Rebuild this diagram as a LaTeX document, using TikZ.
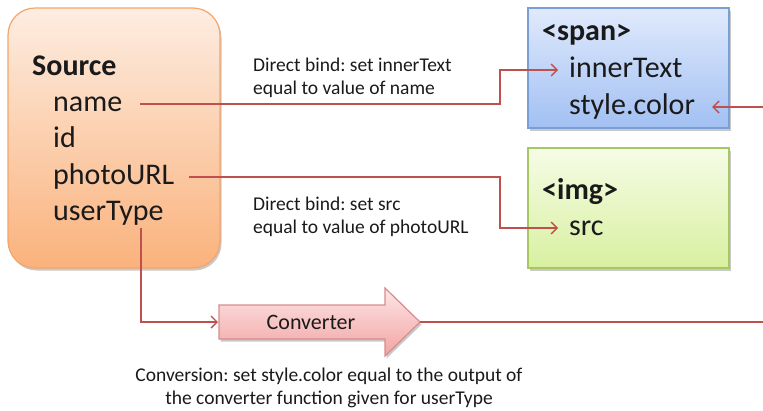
\documentclass[tikz,border=0pt]{standalone}
\usepackage{fontspec}
\setmainfont{Carlito}
\frenchspacing
\usetikzlibrary{arrows.meta,shadows,calc}
\definecolor{txt}{HTML}{1A1A1A}
\definecolor{lnk}{HTML}{C0504D}
\definecolor{srcTop}{HTML}{FDEDE1}
\definecolor{srcBot}{HTML}{FAB27C}
\definecolor{srcBrd}{HTML}{F5A56A}
\definecolor{spanTop}{HTML}{E0EAFC}
\definecolor{spanBot}{HTML}{A2C0F3}
\definecolor{spanBrd}{HTML}{7A9ED6}
\definecolor{imgTop}{HTML}{F6FCE6}
\definecolor{imgBot}{HTML}{D8F0A0}
\definecolor{imgBrd}{HTML}{A6C762}
\definecolor{convTop}{HTML}{FDE6E6}
\definecolor{convBot}{HTML}{F2A3A3}
\definecolor{convBrd}{HTML}{D98C8C}
\begin{document}
\begin{tikzpicture}[x=1pt,y=-1pt,
  big/.style={font=\fontsize{30}{36}\selectfont, text=txt, inner sep=0pt, anchor=west, text height=21.6pt, text depth=7.5pt},
  bigb/.style={big, font=\fontsize{30}{36}\selectfont\bfseries},
  small/.style={font=\fontsize{19.5}{23}\selectfont, text=txt, inner sep=0pt, align=left, anchor=west},
  conn/.style={draw=lnk, line width=1.4pt},
  arr/.style={conn, -{Straight Barb[length=6pt,width=12pt,line width=1.4pt]}},
  shadowed/.style={drop shadow={shadow xshift=1.5pt,shadow yshift=-2.5pt,opacity=0.3,fill=black!70}},
  srcbox/.style={shadowed, draw=srcBrd, line width=1.2pt, top color=srcTop, bottom color=srcBot, rounded corners=27pt, inner sep=0pt},
  spanbox/.style={shadowed, draw=spanBrd, line width=1.2pt, top color=spanTop, bottom color=spanBot, inner sep=0pt},
  imgbox/.style={shadowed, draw=imgBrd, line width=1.2pt, top color=imgTop, bottom color=imgBot, inner sep=0pt},
  convshape/.style={shadowed, draw=convBrd, line width=1.2pt, top color=convTop, bottom color=convBot},
]
\useasboundingbox (0,0) rectangle (763,410);
\clip (0,0) rectangle (763,410);

% boxes
\node[srcbox, minimum width=212pt, minimum height=260pt] (srcb) at (114,138) {};
\node[spanbox, minimum width=201pt, minimum height=120pt] (spanb) at (628.5,68) {};
\node[imgbox, minimum width=201pt, minimum height=120pt] (imgb) at (628.5,208) {};

% converter block arrow
\path[convshape] (219,305) -- (385,305) -- (385,288) -- (420,322) -- (385,356) -- (385,339) -- (219,339) -- cycle;
\coordinate (convin) at (219,322);
\coordinate (convout) at (420,322);
\node[font=\fontsize{22}{26}\selectfont, text=txt, inner sep=0pt] (conv) at (311,322) {Converter};

% source texts
\node[bigb] (srct) at (32,68) {Source};
\node[big] (nm) at (53,104) {name};
\node[big] (id) at (53,140) {id};
\node[big] (ph) at (53,177) {photoURL};
\node[big] (ut) at (53,213) {userType};

% span texts
\node[bigb] (spant) at (542,33) {<span>};
\node[big] (it) at (569,70) {innerText};
\node[big] (sc) at (569,107) {style.color};

% img texts
\node[bigb] (imgt) at (542,192) {<img>};
\node[big] (srcattr) at (569,228) {src};

% labels
\node[small] (lab1) at (253,77.5) {Direct bind: set innerText\\equal to value of name};
\node[small] (lab2) at (253,216.5) {Direct bind: set src\\equal to value of photoURL};
\node[small, align=center, anchor=center] (lab3) at (329,387.5) {Conversion: set style.color equal to the output of\\the converter function given for userType};

% connectors
\coordinate (bendx) at (500,0);
\coordinate (offR) at (790,0);
\draw[arr] ([xshift=18pt]nm.east) -- (nm.east -| bendx) |- ([xshift=-11pt]it.west);
\draw[arr] ([xshift=15pt]ph.east) -- (ph.east -| bendx) |- ([xshift=-11pt]srcattr.west);
\draw[arr] ([xshift=88pt]ut.south west) |- ([xshift=-1pt]convin);
\draw[arr] (convout) -- (convout -| offR) |- ([xshift=17pt]sc.east);
\end{tikzpicture}
\end{document}
